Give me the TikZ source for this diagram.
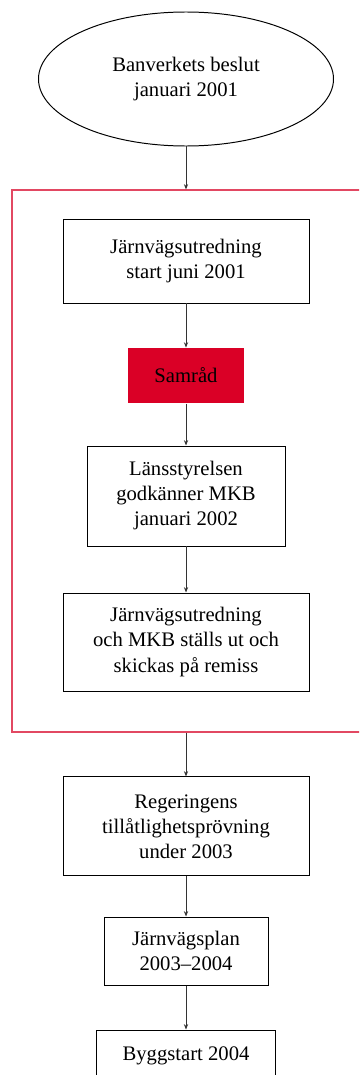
\documentclass[tikz,border=0pt]{standalone}
\usepackage{fontspec}
\setmainfont{Liberation Serif}
\usepackage{xcolor}
\usepackage{tikz}
\usetikzlibrary{arrows.meta}
\usetikzlibrary{shapes.geometric}

\definecolor{bvred}{RGB}{218,0,38}
\definecolor{framered}{RGB}{226,72,98}

\begin{document}
\begin{tikzpicture}[
        box/.style={draw=black, line width=0.7pt, fill=white, minimum width=6.15cm, minimum height=2.1cm, align=center, inner sep=0pt, font=\fontsize{14.7}{17.8}\selectfont},
        arrow/.style={-{Stealth[length=3.8pt, width=3pt]}, line width=0.65pt, black!80}
      ]
        \clip (0,0) rectangle (8.975,-26.875);
        \node[draw=framered, line width=0.8pt, minimum width=9.3cm, minimum height=13.55cm, inner sep=0pt] (frame) at (4.95,-11.525) {};
        \node[box, ellipse, minimum width=7.375cm, minimum height=3.35cm] (beslut) at (4.65,-1.975) {Banverkets beslut\\januari 2001};
        \node[box] (start) at (4.65,-6.525) {Järnvägsutredning\\start juni 2001};
        \node[box, draw=none, fill=bvred, minimum width=2.9cm, minimum height=1.375cm] (samrad) at (4.65,-9.39) {Samråd};
        \node[box, minimum width=4.95cm, minimum height=2.5cm] (lst) at (4.65,-12.4) {Länsstyrelsen\\godkänner MKB\\januari 2002};
        \node[box, minimum height=2.45cm] (remiss) at (4.65,-16.05) {Järnvägsutredning\\och MKB ställs ut och\\skickas på remiss};
        \node[box, minimum height=2.475cm] (reg) at (4.65,-20.66) {Regeringens\\tillåtlighetsprövning\\under 2003};
        \node[box, minimum width=4.1cm, minimum height=1.7cm] (plan) at (4.65,-23.775) {Järnvägsplan\\2003--2004};
        \node[box, minimum width=4.475cm, minimum height=1.3cm] (bygg) at (4.65,-26.4) {Byggstart 2004};
        \draw[arrow] (beslut) -- (beslut.south |- frame.north);
        \draw[arrow] (start) -- (samrad);
        \draw[arrow] (samrad) -- (lst);
        \draw[arrow] (lst) -- (remiss);
        \draw[arrow] (reg.north |- frame.south) -- (reg);
        \draw[arrow] (reg) -- (plan);
        \draw[arrow] (plan) -- (bygg);
      \end{tikzpicture}
\end{document}
